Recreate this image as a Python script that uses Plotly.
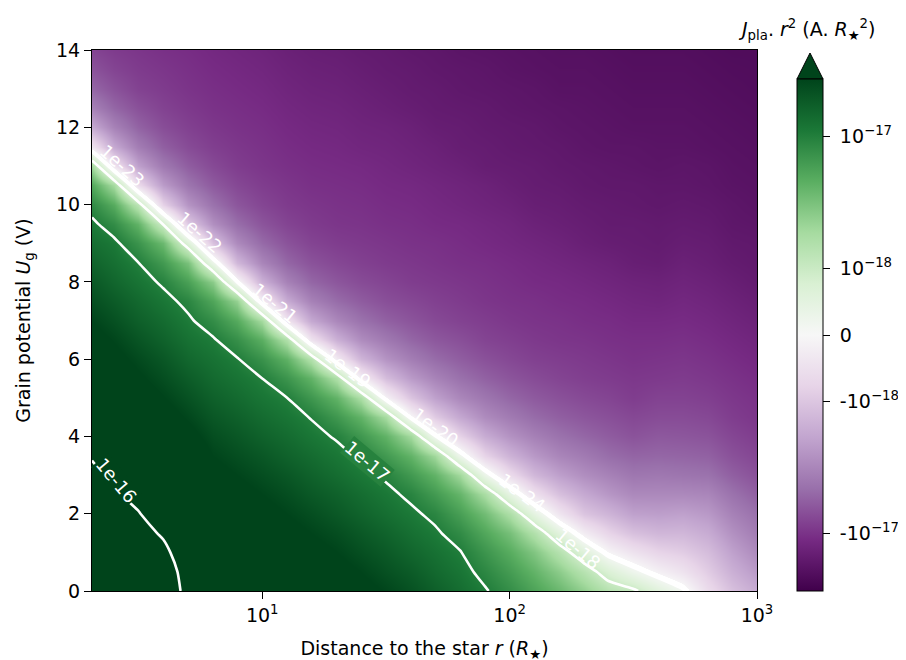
import numpy as np
import plotly.graph_objects as go

# ---------------- data ----------------
# grid columns: distance to the star r (stellar radii)
r_star = [2.05, 2.51, 3.16, 3.98, 5.01, 6.31, 7.94, 10.0, 12.6, 15.8, 20.0, 25.1, 31.6, 39.8,
          50.1, 63.1, 79.4, 100.0, 126.0, 158.0, 200.0, 251.0, 316.0, 398.0, 501.0, 631.0, 794.0, 1000.0]
# grid rows: grain potential U_g (V)
U_g = [0.0, 0.5, 1.0, 1.5, 2.0, 2.5, 3.0, 3.5, 4.0, 4.5, 5.0, 5.5, 6.0, 6.5, 7.0,
       7.5, 8.0, 8.5, 9.0, 9.5, 10.0, 10.5, 11.0, 11.5, 12.0, 12.5, 13.0, 13.5, 14.0]
# J_pla.r^2 read against the colour bar, in units of its symmetric-log scale
# (0 -> 0, +-0.5 -> +-1e-18, +-1.5 -> +-1e-17 A.R*^2).
# One list per r_star value, each running over U_g.
J_symlog_by_r = [
    [2.70, 2.67, 2.64, 2.61, 2.58, 2.55, 2.53, 2.49, 2.41, 2.33, 2.25, 2.17, 2.09, 2.01, 1.93, 1.85, 1.78, 1.70, 1.62, 1.54, 1.42, 1.20, 0.78, -0.21, -0.74, -1.03, -1.21, -1.32, -1.40],
    [2.65, 2.62, 2.60, 2.57, 2.54, 2.525, 2.475, 2.38, 2.31, 2.23, 2.15, 2.07, 1.99, 1.92, 1.84, 1.76, 1.68, 1.61, 1.545, 1.40, 1.18, 0.76, -0.21, -0.74, -1.03, -1.21, -1.32, -1.40, -1.45],
    [2.60, 2.58, 2.55, 2.53, 2.51, 2.44, 2.35, 2.27, 2.19, 2.12, 2.04, 1.96, 1.89, 1.81, 1.73, 1.66, 1.58, 1.50, 1.35, 1.12, 0.62, -0.31, -0.80, -1.06, -1.23, -1.33, -1.41, -1.45, -1.48],
    [2.53, 2.52, 2.52, 2.49, 2.39, 2.32, 2.24, 2.17, 2.09, 2.02, 1.94, 1.86, 1.79, 1.71, 1.64, 1.56, 1.47, 1.31, 1.07, 0.48, -0.39, -0.84, -1.09, -1.25, -1.35, -1.41, -1.45, -1.48, -1.51],
    [2.487, 2.485, 2.45, 2.41, 2.37, 2.29, 2.20, 2.10, 2.00, 1.91, 1.83, 1.75, 1.67, 1.60, 1.53, 1.45, 1.26, 1.00, 0.33, -0.47, -0.89, -1.12, -1.26, -1.36, -1.42, -1.46, -1.49, -1.51, -1.53],
    [2.41, 2.34, 2.27, 2.20, 2.14, 2.07, 2.00, 1.93, 1.86, 1.79, 1.72, 1.65, 1.59, 1.52, 1.40, 1.22, 0.91, 0.17, -0.54, -0.93, -1.14, -1.28, -1.37, -1.43, -1.47, -1.50, -1.52, -1.54, -1.56],
    [2.35, 2.28, 2.21, 2.14, 2.07, 2.00, 1.93, 1.86, 1.79, 1.72, 1.65, 1.58, 1.51, 1.38, 1.19, 0.86, 0.02, -0.62, -0.97, -1.17, -1.30, -1.38, -1.44, -1.47, -1.50, -1.52, -1.54, -1.56, -1.58],
    [2.28, 2.21, 2.14, 2.07, 2.00, 1.93, 1.86, 1.79, 1.71, 1.64, 1.57, 1.50, 1.36, 1.16, 0.78, -0.11, -0.68, -1.00, -1.19, -1.31, -1.39, -1.44, -1.48, -1.50, -1.52, -1.54, -1.56, -1.58, -1.60],
    [2.22, 2.15, 2.08, 2.00, 1.93, 1.86, 1.79, 1.71, 1.64, 1.57, 1.50, 1.34, 1.13, 0.70, -0.20, -0.73, -1.03, -1.21, -1.32, -1.40, -1.45, -1.48, -1.51, -1.53, -1.55, -1.57, -1.59, -1.61, -1.63],
    [2.15, 2.08, 2.00, 1.93, 1.86, 1.78, 1.71, 1.64, 1.56, 1.49, 1.33, 1.12, 0.68, -0.21, -0.74, -1.03, -1.21, -1.32, -1.40, -1.45, -1.48, -1.51, -1.53, -1.55, -1.57, -1.59, -1.61, -1.63, -1.65],
    [2.08, 2.00, 1.93, 1.86, 1.78, 1.71, 1.63, 1.56, 1.48, 1.32, 1.12, 0.70, -0.15, -0.68, -0.99, -1.18, -1.30, -1.38, -1.44, -1.48, -1.50, -1.52, -1.54, -1.56, -1.58, -1.60, -1.62, -1.64, -1.66],
    [2.00, 1.93, 1.85, 1.78, 1.70, 1.63, 1.55, 1.47, 1.32, 1.12, 0.73, -0.11, -0.64, -0.95, -1.14, -1.27, -1.36, -1.42, -1.46, -1.49, -1.51, -1.53, -1.55, -1.58, -1.60, -1.62, -1.64, -1.66, -1.68],
    [1.92, 1.84, 1.77, 1.70, 1.62, 1.55, 1.47, 1.31, 1.12, 0.76, -0.06, -0.58, -0.90, -1.09, -1.24, -1.34, -1.40, -1.45, -1.48, -1.51, -1.53, -1.55, -1.57, -1.59, -1.61, -1.64, -1.66, -1.68, -1.69],
    [1.83, 1.76, 1.68, 1.61, 1.54, 1.46, 1.31, 1.12, 0.78, -0.01, -0.51, -0.85, -1.06, -1.21, -1.31, -1.38, -1.44, -1.47, -1.50, -1.52, -1.54, -1.56, -1.59, -1.61, -1.63, -1.66, -1.68, -1.69, -1.71],
    [1.73, 1.66, 1.60, 1.53, 1.45, 1.30, 1.12, 0.80, 0.06, -0.46, -0.80, -1.02, -1.18, -1.29, -1.37, -1.42, -1.46, -1.49, -1.51, -1.54, -1.56, -1.58, -1.61, -1.63, -1.66, -1.68, -1.69, -1.71, -1.72],
    [1.63, 1.57, 1.51, 1.41, 1.27, 1.10, 0.79, 0.13, -0.40, -0.75, -0.99, -1.15, -1.26, -1.34, -1.41, -1.45, -1.48, -1.51, -1.53, -1.55, -1.58, -1.60, -1.63, -1.66, -1.67, -1.69, -1.71, -1.72, -1.74],
    [1.52, 1.44, 1.34, 1.21, 1.04, 0.74, 0.16, -0.38, -0.72, -0.96, -1.11, -1.24, -1.33, -1.40, -1.44, -1.48, -1.50, -1.52, -1.55, -1.57, -1.60, -1.62, -1.66, -1.67, -1.69, -1.70, -1.72, -1.73, -1.75],
    [1.39, 1.29, 1.17, 1.01, 0.72, 0.22, -0.31, -0.66, -0.91, -1.08, -1.21, -1.31, -1.38, -1.43, -1.47, -1.50, -1.52, -1.54, -1.57, -1.59, -1.62, -1.65, -1.67, -1.69, -1.70, -1.72, -1.73, -1.75, -1.76],
    [1.24, 1.12, 0.96, 0.69, 0.25, -0.25, -0.62, -0.86, -1.04, -1.18, -1.28, -1.36, -1.42, -1.46, -1.49, -1.51, -1.54, -1.56, -1.59, -1.62, -1.65, -1.67, -1.68, -1.70, -1.71, -1.73, -1.74, -1.76, -1.77],
    [1.08, 0.91, 0.66, 0.28, -0.19, -0.55, -0.81, -1.00, -1.14, -1.25, -1.33, -1.40, -1.44, -1.48, -1.50, -1.53, -1.55, -1.58, -1.61, -1.64, -1.66, -1.68, -1.70, -1.71, -1.73, -1.74, -1.76, -1.77, -1.78],
    [0.88, 0.65, 0.30, -0.12, -0.51, -0.74, -0.94, -1.08, -1.21, -1.30, -1.37, -1.43, -1.46, -1.49, -1.52, -1.54, -1.57, -1.60, -1.64, -1.66, -1.68, -1.70, -1.71, -1.73, -1.74, -1.75, -1.76, -1.77, -1.78],
    [0.65, 0.36, -0.04, -0.38, -0.65, -0.88, -1.03, -1.17, -1.27, -1.34, -1.40, -1.45, -1.48, -1.51, -1.53, -1.56, -1.59, -1.62, -1.66, -1.68, -1.69, -1.71, -1.72, -1.74, -1.75, -1.76, -1.77, -1.78, -1.79],
    [0.55, 0.13, -0.23, -0.55, -0.80, -0.98, -1.11, -1.22, -1.32, -1.38, -1.44, -1.47, -1.50, -1.52, -1.55, -1.58, -1.61, -1.65, -1.67, -1.68, -1.70, -1.71, -1.73, -1.74, -1.76, -1.77, -1.78, -1.79, -1.80],
    [0.30, -0.07, -0.38, -0.63, -0.82, -0.98, -1.10, -1.21, -1.29, -1.36, -1.41, -1.46, -1.49, -1.52, -1.55, -1.59, -1.62, -1.66, -1.68, -1.69, -1.71, -1.72, -1.74, -1.75, -1.76, -1.77, -1.78, -1.79, -1.80],
    [0.08, -0.22, -0.45, -0.63, -0.80, -0.98, -1.12, -1.22, -1.30, -1.36, -1.41, -1.45, -1.48, -1.51, -1.54, -1.57, -1.60, -1.63, -1.66, -1.68, -1.70, -1.72, -1.73, -1.75, -1.76, -1.77, -1.78, -1.79, -1.80],
    [-0.30, -0.45, -0.58, -0.72, -0.86, -1.00, -1.14, -1.24, -1.32, -1.38, -1.43, -1.47, -1.50, -1.53, -1.56, -1.59, -1.62, -1.65, -1.67, -1.69, -1.71, -1.73, -1.74, -1.76, -1.77, -1.78, -1.79, -1.80, -1.81],
    [-0.55, -0.68, -0.80, -0.92, -1.03, -1.14, -1.25, -1.33, -1.39, -1.44, -1.47, -1.50, -1.53, -1.56, -1.59, -1.62, -1.65, -1.68, -1.70, -1.72, -1.73, -1.75, -1.76, -1.77, -1.78, -1.79, -1.80, -1.81, -1.82],
    [-0.72, -0.85, -0.97, -1.07, -1.15, -1.25, -1.33, -1.39, -1.44, -1.48, -1.50, -1.53, -1.56, -1.59, -1.62, -1.65, -1.68, -1.70, -1.71, -1.73, -1.75, -1.76, -1.77, -1.78, -1.79, -1.80, -1.81, -1.815, -1.82],
]

# contour levels (A.R*^2)
contour_levels = [1e-16, 1e-17, 1e-18, 1e-19, 1e-20, 1e-21, 1e-22, 1e-23, 1e-24]
# colour bar (A.R*^2)
cbar_values = [-1e-17, -1e-18, 0.0, 1e-18, 1e-17]
cbar_text = ["-10<sup>\u221217</sup>", "-10<sup>\u221218</sup>", "0",
             "10<sup>\u221218</sup>", "10<sup>\u221217</sup>"]
color_vmax = 2.7e-17
# x ticks
x_tickvals = [10, 100, 1000]
x_ticktext = ["10<sup>1</sup>", "10<sup>2</sup>", "10<sup>3</sup>"]
# contour labels: text, log10(r), U, angle, background (None = none)
contour_labels = [
    ("1e-16", 0.41, 2.85, 50, "#00441b"),
    ("1e-17", 1.425, 3.34, 40, "#27823e"),
    ("1e-18", 2.275, 1.09, 40, None),
    ("1e-23", 0.433, 11.0, 42, None),
    ("1e-22", 0.749, 9.29, 41, None),
    ("1e-21", 1.053, 7.45, 39, None),
    ("1e-19", 1.348, 5.77, 37, None),
    ("1e-20", 1.700, 4.22, 36, None),
    ("1e-24", 2.049, 2.54, 36, None),
]

# ------------- symmetric-log colour scale (linthresh 1e-18, linscale 0.5) -------------
LINTHRESH = 1e-18


def symlog(v):
    v = np.asarray(v, dtype=float)
    a = np.abs(v) / LINTHRESH
    return np.where(a >= 1, np.sign(v) * (0.5 + np.log10(np.maximum(a, 1.0))), 0.5 * v / LINTHRESH)


Zc = np.array(J_symlog_by_r).T          # rows = U_g, columns = r_star
zmax = float(symlog(color_vmax))

prgn = ['#40004b', '#762a83', '#9970ab', '#c2a5cf', '#e7d4e8', '#f7f7f7',
        '#d9f0d3', '#a6dba0', '#5aae61', '#1b7837', '#00441b']
colorscale = [[i / 10, c] for i, c in enumerate(prgn)]

# ---------------- geometry (page pixels; the page body is offset by 8 px) ----------------
OFF = 8
W, H = 914, 668
PLOT_L, PLOT_R, PLOT_T, PLOT_B = 92, 757, 50, 591
L_M = PLOT_L - OFF
T_M = PLOT_T - OFF
R_M = OFF + W - PLOT_R
B_M = OFF + H - PLOT_B
PW = PLOT_R - PLOT_L
PH = PLOT_B - PLOT_T
CB_X0, CB_X1, CB_TOP, CB_BOT, CB_TIP = 797, 823, 79, 591, 53


def px2paper_x(px):
    return (px - PLOT_L) / PW


def px2paper_y(py):
    return (PLOT_B - py) / PH


FONT = "DejaVu Sans"
FS = 19
NBSP = "\u00a0"

fig = go.Figure()
fig.add_trace(go.Heatmap(
    x=r_star, y=U_g, z=Zc, zsmooth="best", colorscale=colorscale,
    zmin=-zmax, zmax=zmax, hoverinfo="skip",
    colorbar=dict(
        x=px2paper_x(CB_X0), xanchor="left", xpad=0,
        y=px2paper_y(CB_BOT), yanchor="bottom", ypad=0,
        len=(CB_BOT - CB_TOP) / PH, lenmode="fraction",
        thickness=CB_X1 - CB_X0, thicknessmode="pixels",
        outlinewidth=1, outlinecolor="black",
        tickvals=list(symlog(cbar_values)), ticktext=[NBSP + t for t in cbar_text],
        ticks="outside", ticklen=7, tickwidth=1, tickcolor="black",
        tickfont=dict(family=FONT, size=FS, color="black"),
    ),
))

for lvl in contour_levels:
    t = float(symlog(lvl))
    fig.add_trace(go.Contour(
        x=r_star, y=U_g, z=Zc, autocontour=False,
        contours=dict(start=t, end=t, size=1, coloring="none", showlabels=False),
        line=dict(color="white", width=2.8 if lvl < 1e-18 else 2.6, smoothing=0.6),
        showscale=False, hoverinfo="skip",
    ))

annotations = []
for text, lx, uy, ang, bg in contour_labels:
    ann = dict(x=lx, y=uy, xref="x", yref="y", text=text, showarrow=False,
               textangle=ang, font=dict(family=FONT, size=FS - 1, color="white"),
               borderpad=0)
    if bg:
        ann["bgcolor"] = bg
    annotations.append(ann)

# colour-bar title
annotations.append(dict(
    x=px2paper_x(807), y=px2paper_y(30), xref="paper", yref="paper",
    text="<i>J</i><sub>pla</sub>. <i>r</i><sup>2</sup> (A. <i>R</i><sub>\u2605</sub><sup>2</sup>)",
    showarrow=False, font=dict(family=FONT, size=FS, color="black"),
    xanchor="center", yanchor="middle"))

# extend-max triangle on top of the colour bar
tri = "M {a},{b} L {c},{b} L {d},{e} Z".format(
    a=px2paper_x(CB_X0), b=px2paper_y(CB_TOP), c=px2paper_x(CB_X1),
    d=px2paper_x((CB_X0 + CB_X1) / 2), e=px2paper_y(CB_TIP))

fig.update_layout(
    width=W, height=H,
    margin=dict(l=L_M, r=R_M, t=T_M, b=B_M, pad=0, autoexpand=False),
    paper_bgcolor="white", plot_bgcolor="white",
    font=dict(family=FONT, size=FS, color="black"),
    showlegend=False,
    annotations=annotations,
    shapes=[dict(type="path", path=tri, xref="paper", yref="paper",
                 fillcolor="#00441b", line=dict(color="black", width=1))],
    xaxis=dict(
        type="log", range=[np.log10(r_star[0]), np.log10(r_star[-1])],
        tickvals=x_tickvals, ticktext=x_ticktext, automargin=False,
        ticks="outside", ticklen=7, tickwidth=1, tickcolor="black",
        showline=True, linecolor="black", linewidth=1, mirror=True,
        showgrid=False, zeroline=False,
        tickfont=dict(family=FONT, size=FS),
        title=dict(text="Distance to the star <i>r</i> (<i>R</i><sub>\u2605</sub>)",
                   font=dict(family=FONT, size=FS), standoff=16),
    ),
    yaxis=dict(
        range=[0, 14], dtick=2, tick0=0, automargin=False,
        ticks="outside", ticklen=7, tickwidth=1, tickcolor="black",
        showline=True, linecolor="black", linewidth=1, mirror=True,
        showgrid=False, zeroline=False,
        tickfont=dict(family=FONT, size=FS),
        title=dict(text="Grain potential <i>U</i><sub>g</sub> (V)",
                   font=dict(family=FONT, size=FS), standoff=20),
    ),
)

fig.write_html("out.html")
